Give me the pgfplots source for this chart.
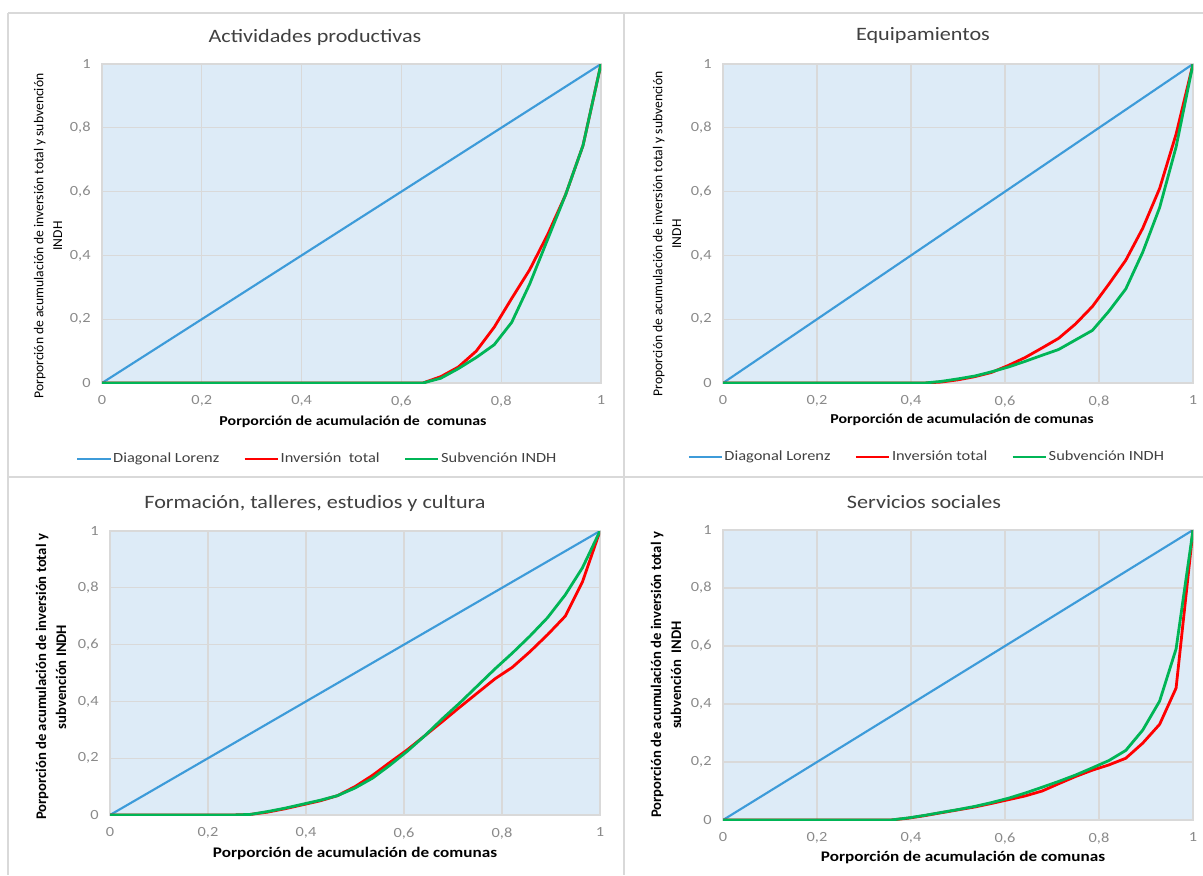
\documentclass[border=0pt]{standalone}
\usepackage{fontspec}
\setmainfont{Carlito}[FakeStretch=1.17]
\newfontfamily\upfont{Carlito}
\usepackage{pgfplots}
\pgfplotsset{compat=1.18}

\definecolor{plotbg}{HTML}{DDEBF7}
\definecolor{gridc}{HTML}{D9D9D9}
\definecolor{lorenz}{HTML}{3D9BD9}
\definecolor{inv}{HTML}{FF0000}
\definecolor{sub}{HTML}{00B556}
\definecolor{tickc}{HTML}{8A8A8A}
\definecolor{titlec}{HTML}{404040}
\definecolor{framec}{HTML}{D9D9D9}

\pgfplotsset{
  lorenzpanel/.style={
    scale only axis,
    xmin=0, xmax=1, ymin=0, ymax=1,
    xtick={0,0.2,0.4,0.6,0.8,1},
    ytick={0,0.2,0.4,0.6,0.8,1},
    grid=major,
    major grid style={gridc, line width=0.8pt},
    axis line style={gridc, line width=0.8pt},
    axis background/.style={fill=plotbg},
    major tick length=0pt,
    tick label style={font=\fontsize{10.5}{12}\selectfont, text=tickc},
    xticklabel style={yshift=-6pt},
    yticklabel style={xshift=-5pt},
    /pgf/number format/use comma,
    /pgf/number format/assume math mode=true,
    every axis plot/.append style={line width=2.1pt, line join=round},
    legend image code/.code={\draw[##1] (0pt,0pt) -- (25pt,0pt);},
    legend style={draw=none, fill=none, legend columns=3,
      font=\fontsize{10.5}{12}\selectfont, text=titlec,
      nodes={inner sep=1pt},
      /tikz/every even column/.append style={column sep=17pt}},
  },
  diag/.style={lorenz, line width=1.6pt},
}

\begin{document}
\begin{tikzpicture}[x=0.75pt, y=-0.75pt]
\useasboundingbox (0,0) rectangle (1203,875);

% panel frames
\draw[framec, line width=0.8pt] (8,13) -- (1203,13);
\draw[framec, line width=0.8pt] (8,13) -- (8,875);
\draw[framec, line width=0.8pt] (624,13) -- (624,875);
\draw[framec, line width=0.8pt] (8,477) -- (1203,477);

% Actividades productivas
\begin{axis}[lorenzpanel, at={(76.5pt,-287.25pt)}, anchor=south west,
  width=374.25pt, height=239.25pt,
  legend style={at={(0.431,-0.238)}, anchor=center}]
\addplot[diag] coordinates {(0,0) (1,1)};
\addplot[inv] coordinates {
  (0,0) (0.643,0) (0.679,0.02) (0.714,0.05) (0.75,0.10) (0.786,0.175)
  (0.821,0.265) (0.857,0.355) (0.893,0.465) (0.929,0.59) (0.964,0.745) (1,1)};
\addplot[sub] coordinates {
  (0,0) (0.643,0) (0.679,0.015) (0.714,0.045) (0.75,0.08) (0.786,0.12)
  (0.821,0.19) (0.857,0.31) (0.893,0.45) (0.929,0.59) (0.964,0.745) (1,1)};
\legend{Diagonal Lorenz, Inversión~ total, Subvención INDH}
\end{axis}

% Equipamientos
\begin{axis}[lorenzpanel, at={(542.25pt,-287.25pt)}, anchor=south west,
  width=352.5pt, height=239.25pt,
  legend style={at={(0.433,-0.232)}, anchor=center}]
\addplot[diag] coordinates {(0,0) (1,1)};
\addplot[inv] coordinates {
  (0,0) (0.429,0) (0.464,0.003) (0.5,0.01) (0.536,0.02) (0.571,0.033)
  (0.607,0.055) (0.643,0.08) (0.679,0.11) (0.714,0.14) (0.75,0.185)
  (0.786,0.24) (0.821,0.31) (0.857,0.385) (0.893,0.485) (0.929,0.61)
  (0.964,0.78) (1,1)};
\addplot[sub] coordinates {
  (0,0) (0.429,0) (0.464,0.005) (0.5,0.013) (0.536,0.022) (0.571,0.035)
  (0.607,0.05) (0.643,0.068) (0.679,0.087) (0.714,0.105) (0.75,0.135)
  (0.786,0.165) (0.821,0.225) (0.857,0.295) (0.893,0.41) (0.929,0.55)
  (0.964,0.74) (1,1)};
\legend{Diagonal Lorenz, Inversión total, Subvención INDH}
\end{axis}

% Formacion
\begin{axis}[lorenzpanel, at={(82.5pt,-611.25pt)}, anchor=south west,
  width=367.5pt, height=213pt]
\addplot[diag] coordinates {(0,0) (1,1)};
\addplot[inv] coordinates {
  (0,0) (0.25,0) (0.286,0.002) (0.321,0.01) (0.357,0.022) (0.393,0.036)
  (0.429,0.05) (0.464,0.068) (0.5,0.1) (0.536,0.14) (0.571,0.185)
  (0.607,0.23) (0.643,0.28) (0.679,0.33) (0.714,0.38) (0.75,0.43)
  (0.786,0.48) (0.821,0.52) (0.857,0.575) (0.893,0.635) (0.929,0.70)
  (0.964,0.82) (1,1)};
\addplot[sub] coordinates {
  (0,0) (0.25,0) (0.286,0.002) (0.321,0.012) (0.357,0.024) (0.393,0.038)
  (0.429,0.052) (0.464,0.068) (0.5,0.095) (0.536,0.13) (0.571,0.175)
  (0.607,0.225) (0.643,0.28) (0.679,0.34) (0.714,0.395) (0.75,0.455)
  (0.786,0.515) (0.821,0.57) (0.857,0.63) (0.893,0.695) (0.929,0.775)
  (0.964,0.87) (1,1)};
\end{axis}

% Servicios sociales
\begin{axis}[lorenzpanel, at={(542.25pt,-615pt)}, anchor=south west,
  width=352.5pt, height=217.5pt]
\addplot[diag] coordinates {(0,0) (1,1)};
\addplot[inv] coordinates {
  (0,0) (0.357,0) (0.393,0.006) (0.429,0.015) (0.464,0.025) (0.5,0.035)
  (0.536,0.045) (0.571,0.057) (0.607,0.07) (0.643,0.083) (0.679,0.10)
  (0.714,0.125) (0.75,0.15) (0.786,0.172) (0.821,0.19) (0.857,0.213)
  (0.893,0.265) (0.929,0.33) (0.964,0.455) (1,1)};
\addplot[sub] coordinates {
  (0,0) (0.357,0) (0.393,0.007) (0.429,0.016) (0.464,0.026) (0.5,0.036)
  (0.536,0.047) (0.571,0.06) (0.607,0.075) (0.643,0.093) (0.679,0.113)
  (0.714,0.133) (0.75,0.155) (0.786,0.18) (0.821,0.205) (0.857,0.24)
  (0.893,0.31) (0.929,0.41) (0.964,0.59) (1,1)};
\end{axis}

% titles
\begin{scope}[every node/.style={text=titlec, font=\fontsize{14.2}{16}\selectfont}]
\node at (315,37) {Actividades productivas};
\node at (923,36) {Equipamientos};
\node at (315,503) {Formación, talleres, estudios y cultura};
\node at (924,502) {Servicios sociales};
\end{scope}

% x labels
\node[font=\fontsize{10.2}{12}\selectfont\bfseries] at (353,422) {Porporción de acumulación de~ comunas};
\node[font=\fontsize{10.2}{12}\selectfont\bfseries] at (962,420) {Porporción de acumulación de comunas};
\node[font=\fontsize{11}{13}\selectfont\bfseries] at (355,853) {Porporción de acumulación de comunas};
\node[font=\fontsize{11}{13}\selectfont\bfseries] at (963,857) {Porporción de acumulación de comunas};

% y labels
\node[rotate=90, align=center, font=\upfont\fontsize{10.2}{14}\selectfont] at (48,236)
  {Porporción de acumulación de inversión total y subvención\\INDH};
\node[rotate=90, align=center, font=\upfont\fontsize{10.2}{14}\selectfont] at (667,234)
  {Proporción de acumulación de inversión total y subvención\\INDH};
\node[rotate=90, align=center, font=\upfont\fontsize{11}{15}\selectfont\bfseries] at (51,677)
  {Porporción de acumulación de inversión total y\\subvención INDH};
\node[rotate=90, align=center, font=\upfont\fontsize{11}{15}\selectfont\bfseries] at (666,675)
  {Porporción de acumulación de inversión total y\\subvención~ INDH};
\end{tikzpicture}
\end{document}
